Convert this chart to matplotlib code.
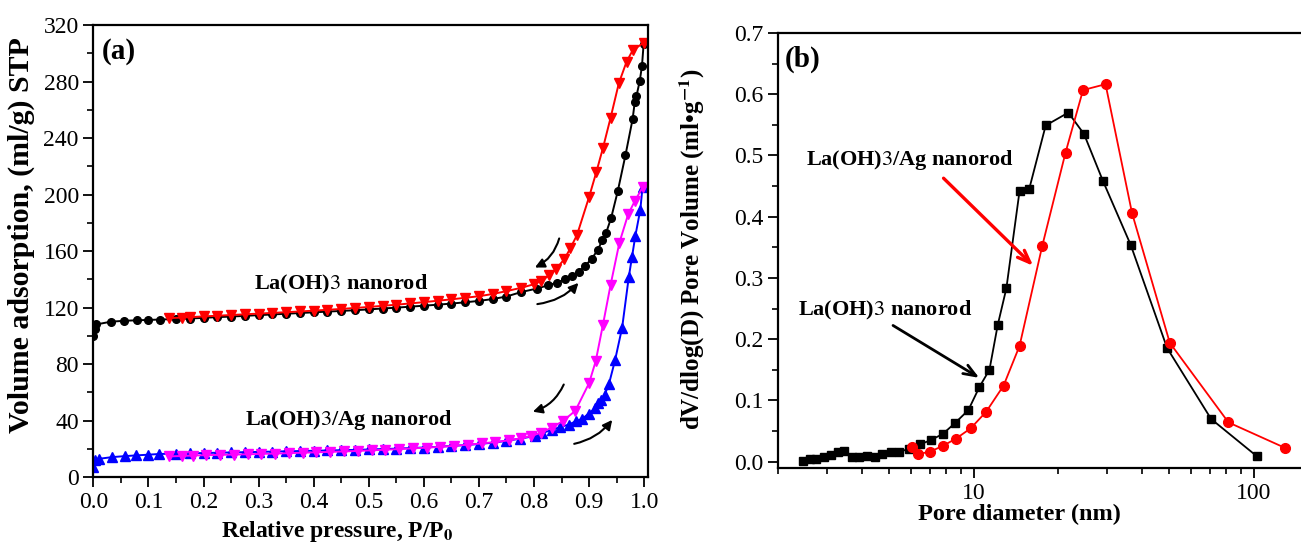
import numpy as np
import matplotlib
matplotlib.use("Agg")
import matplotlib.pyplot as plt
from matplotlib.ticker import MultipleLocator, LogLocator, NullFormatter, FixedLocator

plt.rcParams['font.family'] = ['Liberation Serif', 'DejaVu Serif']
plt.rcParams['mathtext.fontset'] = 'stix'

# (a) N2 isotherms - La(OH)3 nanorod
p_ads1 = [0.0, 0.002, 0.005, 0.032, 0.056, 0.08, 0.1, 0.12, 0.15, 0.175, 0.2, 0.225,
          0.25, 0.275, 0.3, 0.325, 0.35, 0.375, 0.4, 0.425, 0.45, 0.475, 0.5, 0.525,
          0.55, 0.575, 0.6, 0.625, 0.65, 0.675, 0.7, 0.725, 0.75, 0.777, 0.805, 0.825,
          0.842, 0.856, 0.869, 0.881, 0.892, 0.905, 0.916, 0.924, 0.931, 0.94, 0.952,
          0.966, 0.979, 0.983, 0.986, 0.992, 0.996, 0.999]
v_ads1 = [100, 105, 108, 110, 110.6, 111, 111.2, 111.5, 111.8, 112.2, 112.7, 113.2,
          113.6, 114.1, 114.6, 115.1, 115.6, 116.1, 116.6, 117.1, 117.6, 118.1, 118.7, 119.3,
          119.9, 120.6, 121.3, 122.0, 122.8, 123.7, 124.7, 126.0, 127.8, 131.0, 133.4, 135.7,
          137.6, 140.0, 142.3, 145.2, 149.2, 154.6, 161.0, 167.6, 173.0, 183.4, 202.3,
          227.8, 253.4, 265.7, 269.7, 280.5, 291.0, 306.5]
p_des1 = [0.999, 0.979, 0.968, 0.954, 0.939, 0.925, 0.913, 0.9, 0.878, 0.866, 0.855,
          0.84, 0.828, 0.813, 0.8, 0.777, 0.75, 0.725, 0.7, 0.675, 0.65, 0.625, 0.6,
          0.575, 0.55, 0.525, 0.5, 0.475, 0.45, 0.425, 0.4, 0.375, 0.35, 0.325, 0.3,
          0.275, 0.25, 0.225, 0.2, 0.175, 0.16, 0.138]
v_des1 = [307.5, 302, 294, 278.8, 254.3, 232.7, 215.7, 198.3, 171.3, 162, 154.2,
          147.3, 142.9, 138.9, 136.5, 134.0, 131.6, 129.6, 128.0, 126.9, 125.8, 124.8, 123.8,
          122.9, 122.0, 121.2, 120.4, 119.7, 119.0, 118.4, 117.8, 117.2, 116.7, 116.2, 115.7,
          115.2, 114.7, 114.2, 113.7, 113.2, 112.9, 112.5]

# (a) N2 isotherms - La(OH)3/Ag nanorod
p_ads2 = [0.0, 0.003, 0.01, 0.034, 0.057, 0.077, 0.099, 0.119, 0.15, 0.175, 0.2, 0.225,
          0.25, 0.275, 0.3, 0.325, 0.35, 0.375, 0.4, 0.425, 0.45, 0.475, 0.5, 0.525,
          0.55, 0.575, 0.6, 0.625, 0.65, 0.675, 0.7, 0.725, 0.75, 0.775, 0.801, 0.814,
          0.832, 0.848, 0.863, 0.876, 0.888, 0.899, 0.911, 0.917, 0.922, 0.928, 0.936,
          0.947, 0.96, 0.972, 0.978, 0.984, 0.993, 0.997]
v_ads2 = [7, 11.8, 12.9, 14.1, 14.8, 15.3, 15.8, 16.3, 16.6, 16.8, 17.0, 17.2,
          17.4, 17.6, 17.8, 18.0, 18.2, 18.4, 18.6, 18.8, 19.0, 19.2, 19.5, 19.8,
          20.1, 20.5, 20.9, 21.4, 22.0, 22.6, 23.4, 24.3, 25.6, 27.2, 29.0, 31.0,
          33.4, 35.4, 37.1, 39.5, 41.3, 44.9, 48.6, 52.3, 54.3, 58.0, 65.8,
          82.5, 105.8, 141.4, 156.1, 170.8, 189.3, 205.2]
p_des2 = [0.997, 0.983, 0.971, 0.955, 0.939, 0.925, 0.912, 0.9, 0.875, 0.852, 0.832,
          0.813, 0.795, 0.776, 0.755, 0.73, 0.705, 0.68, 0.655, 0.63, 0.605, 0.58, 0.555,
          0.53, 0.505, 0.48, 0.455, 0.43, 0.405, 0.38, 0.355, 0.33, 0.305, 0.28, 0.255,
          0.23, 0.205, 0.18, 0.16, 0.138]
v_des2 = [205, 195.4, 186.1, 165.9, 136, 107.5, 82, 66.5, 46.9, 39.5, 35,
          31.5, 29.0, 27.4, 26.0, 24.8, 23.8, 22.9, 22.1, 21.4, 20.8, 20.3, 19.8,
          19.3, 18.9, 18.5, 18.1, 17.8, 17.5, 17.2, 16.9, 16.6, 16.4, 16.1, 15.9,
          15.7, 15.5, 15.2, 14.9, 14.6]

# (b) pore size distribution
d_la = [2.46, 2.60, 2.75, 2.92, 3.09, 3.29, 3.44, 3.67, 3.91, 4.15, 4.45, 4.73, 5.06,
        5.43, 5.89, 6.44, 7.03, 7.76, 8.57, 9.58, 10.5, 11.4, 12.2, 13.1, 14.6, 15.8,
        18.1, 21.8, 24.8, 29.0, 36.4, 49.1, 70.5, 102.8]
dv_la = [0.0015, 0.0037, 0.004, 0.007, 0.0103, 0.016, 0.017, 0.008, 0.007, 0.009, 0.008,
         0.0124, 0.0157, 0.0157, 0.021, 0.028, 0.035, 0.045, 0.0625, 0.084, 0.122, 0.150,
         0.223, 0.283, 0.442, 0.445, 0.549, 0.570, 0.535, 0.458, 0.354, 0.1855, 0.0696, 0.0085]
d_ag = [6.01, 6.35, 6.98, 7.76, 8.65, 9.77, 11.1, 12.8, 14.6, 17.6, 21.3, 24.6, 29.6,
        36.8, 50.2, 81.3, 129]
dv_ag = [0.0243, 0.0124, 0.016, 0.0255, 0.0374, 0.0543, 0.0815, 0.124, 0.189, 0.3526,
         0.5045, 0.6068, 0.6164, 0.406, 0.194, 0.064, 0.0227]

lbl_la = r"La(OH)$\mathrm{3}$ nanorod"
lbl_ag = r"La(OH)$\mathrm{3}$/Ag nanorod"

fig = plt.figure(figsize=(13.01, 5.43), dpi=100)

# ---------- panel (a) ----------
ax1 = fig.add_axes([0.0718, 0.1215, 0.4263, 0.8324])
ax1.plot(p_ads1, v_ads1, color='black', marker='o', ms=5.5, lw=1.4)
ax1.plot(p_des1, v_des1, color='red', marker='v', ms=6.5, lw=1.4)
ax1.plot(p_ads2, v_ads2, color='blue', marker='^', ms=6.5, lw=1.4)
ax1.plot(p_des2, v_des2, color='magenta', marker='v', ms=6.5, lw=1.4)

ax1.set_xlim(0, 1.007)
ax1.set_ylim(0, 320)
ax1.xaxis.set_major_locator(MultipleLocator(0.1))
ax1.xaxis.set_minor_locator(MultipleLocator(0.05))
ax1.yaxis.set_major_locator(MultipleLocator(40))
ax1.yaxis.set_minor_locator(MultipleLocator(20))
ax1.xaxis.set_major_formatter(plt.FuncFormatter(lambda v, p: f"{v:.1f}"))

ax1.text(0.45, 136.4, lbl_la, ha='center', va='center', fontsize=16, fontweight='bold')
ax1.text(0.464, 40.3, lbl_ag, ha='center', va='center', fontsize=16, fontweight='bold')
ax1.text(0.015, 301, "(a)", ha='left', va='center', fontsize=21, fontweight='bold')

arr = dict(arrowstyle='-|>', color='black', lw=1.5, mutation_scale=14)
ax1.annotate("", xy=(0.797, 147.5), xytext=(0.847, 170.8),
             arrowprops=dict(arr, connectionstyle='arc3,rad=-0.25'))
ax1.annotate("", xy=(0.884, 138.9), xytext=(0.801, 122.2),
             arrowprops=dict(arr, connectionstyle='arc3,rad=0.2'))
ax1.annotate("", xy=(0.793, 45.7), xytext=(0.856, 67.3),
             arrowprops=dict(arr, connectionstyle='arc3,rad=-0.25'))
ax1.annotate("", xy=(0.945, 42.0), xytext=(0.868, 23.1),
             arrowprops=dict(arr, connectionstyle='arc3,rad=0.2'))

ax1.set_xlabel(r"Relative pressure, P/P$_\mathbf{0}$", fontsize=17, fontweight='bold')
ax1.xaxis.set_label_coords(0.44, -0.093)
ax1.set_ylabel("Volume adsorption, (ml/g) STP", fontsize=21.5, fontweight='bold')
ax1.yaxis.set_label_coords(-0.105, 0.535)

# ---------- panel (b) ----------
ax2 = fig.add_axes([0.5978, 0.1381, 0.4037, 0.8011])
ax2.plot(d_la, dv_la, color='black', marker='s', ms=6, lw=1.3)
ax2.plot(d_ag, dv_ag, color='red', marker='o', ms=7, lw=1.3)

ax2.set_xscale('log')
ax2.set_xlim(2, 150)
ax2.set_ylim(-0.0105, 0.7)
ax2.yaxis.set_major_locator(MultipleLocator(0.1))
ax2.yaxis.set_minor_locator(MultipleLocator(0.05))
ax2.yaxis.set_major_formatter(plt.FuncFormatter(lambda v, p: f"{v:.1f}"))
ax2.xaxis.set_major_locator(FixedLocator([10, 100]))
ax2.xaxis.set_major_formatter(plt.FuncFormatter(lambda v, p: f"{v:.0f}"))
ax2.xaxis.set_minor_locator(LogLocator(base=10, subs=np.arange(2, 10)))
ax2.xaxis.set_minor_formatter(NullFormatter())

ax2.text(5.93, 0.4925, lbl_ag, ha='center', va='center', fontsize=16, fontweight='bold')
ax2.text(4.83, 0.246, lbl_la, ha='center', va='center', fontsize=16, fontweight='bold')
ax2.text(2.12, 0.657, "(b)", ha='left', va='center', fontsize=21, fontweight='bold')

ax2.annotate("", xy=(16.6, 0.3166), xytext=(7.69, 0.466),
             arrowprops=dict(arrowstyle='->,head_length=0.9,head_width=0.35', color='red', lw=2.4))
ax2.annotate("", xy=(10.69, 0.1344), xytext=(5.06, 0.2247),
             arrowprops=dict(arrowstyle='->,head_length=0.9,head_width=0.35', color='black', lw=2.0))

ax2.set_xlabel("Pore diameter (nm)", fontsize=17.5, fontweight='bold')
ax2.xaxis.set_label_coords(0.461, -0.082)
ax2.set_ylabel(r"dV/dlog(D) Pore Volume (ml•g$^{\mathbf{-1}}$)", fontsize=18, fontweight='bold')
ax2.yaxis.set_label_coords(-0.135, 0.503)

for ax in (ax1, ax2):
    for s in ax.spines.values():
        s.set_linewidth(1.6)
    ax.tick_params(which='major', direction='out', length=7, width=1.3, labelsize=17)
    ax.tick_params(which='minor', direction='out', length=4, width=1.2)
    ax.tick_params(top=False, right=False, which='both')

fig.savefig("out.png", dpi=100)
